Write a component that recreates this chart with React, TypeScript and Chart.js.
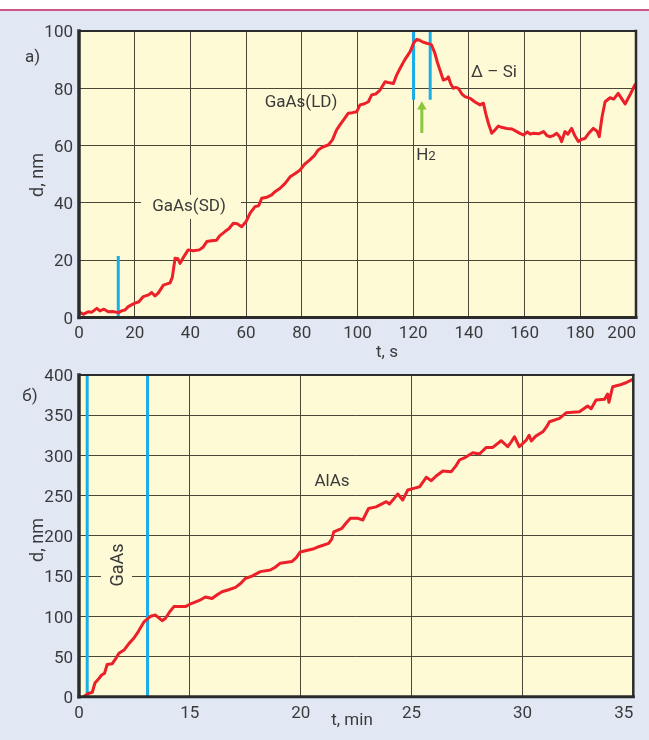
import { useEffect, useRef } from "react";
import { Chart, registerables } from "chart.js";
Chart.register(...registerables);

const FONT = "Roboto, 'DejaVu Sans', sans-serif";
const TEXT = "#3a3a3a";
const PLOT_BG = "#fffad6";
const GRID = "#4a4638";
const RED = "#ec2028";
const BLUE = "#1aaee8";
const GREEN = "#8cc63f";

// ---------- top chart (a): d, nm vs t, s ----------
const topTime = [
  0, 1.5, 3.3, 4.5, 6.4, 7.5, 9, 10.5, 12, 14.1, 15.5, 16.5, 17.7, 19, 20.1, 21.5, 23.1, 25, 26.1, 27.3,
  28.5, 30.3, 32.7, 33.5, 34.5, 35.5, 36.3, 37.5, 39.2, 41, 43.2, 44.5, 45.9, 47.5, 49.4, 50.5, 52.4, 53.8,
  55.4, 56.8, 58.4, 60, 61.5, 63.2, 64.5, 65.6, 67.5, 69.2, 70.5, 72.2, 74, 75.8, 77.5, 79.4, 81, 82.9,
  84.5, 85.9, 87.5, 89.5, 91, 92.5, 93.7, 95, 96.7, 98.2, 99.7, 100.9, 102.5, 103.9, 105.1, 106.5, 108.1,
  109.9, 111.5, 112.9, 114, 115.3, 117, 118.9, 120.1, 121.3, 122.3, 123.1, 124, 124.8, 125.8, 126.6, 127.8,
  128.7, 129.6, 130.8, 132, 132.6, 133.5, 134.4, 135.3, 136.2, 137.5, 138.6, 140.4, 142.2, 144, 145.2,
  146.1, 147, 148.2, 149.4, 150.6, 152, 153.6, 155.5, 157.2, 158.5, 159.6, 161, 162, 163.2, 165, 166.8,
  168, 169.2, 170.5, 171.5, 172.5, 173.3, 174.5, 175.5, 176.9, 178, 179.3, 180.5, 181.7, 183.2, 184.7,
  186, 186.8, 187.8, 188.9, 190.7, 192, 193.6, 194.8, 196.1, 198, 199.6, 200,
];
const topDepth = [
  2.0, 1.1, 2.0, 1.8, 3.2, 2.3, 2.9, 2.0, 2.1, 1.7, 2.4, 2.6, 3.8, 4.5, 5.0, 5.5, 7.3, 7.9, 8.7, 7.5,
  8.6, 11.3, 12.1, 14, 20.7, 20.5, 18.9, 21, 23.6, 23.3, 23.6, 24.5, 26.5, 26.8, 27, 28.5, 30, 31,
  32.9, 32.7, 31.7, 33.5, 36.5, 38.7, 39, 41.6, 42, 42.8, 44, 45.1, 46.8, 49.1, 50.2, 51.5, 53.5, 55,
  56.5, 58.5, 59.5, 60.2, 62, 65.5, 67.2, 69, 71.3, 71.5, 71.8, 74.2, 74.6, 75.3, 77.7, 78, 79.4,
  82.3, 81.9, 81.7, 84.5, 87, 90, 92.8, 95.7, 97.1, 96.8, 96.3, 96, 95.7, 95.5, 95.1, 92.2,
  89, 86.4, 82.9, 83.3, 84.0, 81.5, 80.0, 80.3, 80, 78, 77.1, 76.5, 75.2, 74.2, 74.8,
  71, 67.8, 64.3, 65.5, 66.8, 66.3, 66, 65.8, 64.9, 64.2, 63.7, 64.8, 64, 64.3, 64.1, 64.9,
  63.5, 63.1, 63.6, 64.3, 63.2, 61.4, 64.9, 64, 66, 63.5, 61.4, 62.2, 62.5, 64.5, 66,
  65, 63.1, 70, 75.3, 76.7, 76.2, 78.2, 76.5, 74.5, 78, 81.2, 81.5,
];
const topXTicks = [0, 20, 40, 60, 80, 100, 120, 140, 160, 180, 200];
const topXLabels = ["0", "20", "40", "60", "80", "100", "120", "140", "160", "180", "200"];
const topYTicks = [0, 20, 40, 60, 80, 100];
const topMarkerT = [14.1, 120.1, 126.1];
const topMarkerFrom = [0, 100, 100];
const topMarkerTo = [21.5, 76, 76];
const h2ArrowT = 123.1;
const h2ArrowFrom = 64.4;
const h2ArrowHead = 73.6;

// ---------- bottom chart (б): d, nm vs t, min ----------
const botTime = [
  10.2, 10.42, 10.6, 10.72, 10.85, 11.02, 11.15, 11.27, 11.5, 11.65, 11.8, 12.03, 12.25, 12.45, 12.63,
  12.8, 12.93, 13.1, 13.23, 13.45, 13.6, 13.75, 13.9, 14.1, 14.28, 14.8, 15.0, 15.18, 15.45, 15.7, 16.0,
  16.25, 16.45, 16.75, 17.06, 17.3, 17.5, 17.8, 18.18, 18.63, 18.85, 19.08, 19.6, 19.8, 19.98, 20.36,
  20.6, 20.81, 21.26, 21.4, 21.49, 21.86, 22.05, 22.24, 22.58, 22.8, 23.06, 23.4, 23.86, 24.0, 24.2,
  24.38, 24.6, 24.83, 25.1, 25.36, 25.66, 25.89, 26.11, 26.41, 26.79, 27.0, 27.16, 27.45, 27.76, 28.06,
  28.37, 28.66, 29.04, 29.34, 29.5, 29.64, 29.86, 30.17, 30.3, 30.4, 30.6, 30.92, 31.1, 31.22, 31.67,
  31.97, 32.57, 32.94, 33.1, 33.32, 33.7, 33.84, 33.9, 34.07, 34.37, 34.67, 34.97, 35.0,
];
const botDepth = [
  0, 4, 5.5, 17, 21, 27, 29, 40, 41, 47, 54, 58, 66, 72, 79,
  87, 93, 97, 100, 101.5, 98, 94.5, 97.5, 106, 112, 112, 115, 117, 120, 124, 122,
  127, 130.5, 133, 136, 141, 147, 150, 155.5, 157.5, 161, 166, 168, 173, 180, 182.5,
  184, 186.5, 190.7, 196, 205, 209.4, 216, 221.8, 221.8, 219.7, 234, 236, 242.5, 239.6, 246,
  252, 244.6, 257, 259, 261, 272.8, 268.6, 274.4, 280.6, 279.8, 287, 294.3, 298, 303.4, 301.8,
  310, 310, 318.3, 310.8, 317, 323.2, 310.8, 319, 325, 318, 324, 329.4, 336, 341.9, 346,
  353, 354.3, 361.4, 358, 368.9, 369.7, 376.3, 366, 385.4, 387.5, 390.4, 394.6, 395,
];
const botXTicks = [10, 15, 20, 25, 30, 35];
const botXLabels = ["0", "15", "20", "25", "30", "35"];
const botYTicks = [0, 50, 100, 150, 200, 250, 300, 350, 400];
const botMarkerT = [10.37, 13.09];
const botMarkerFrom = [0, 0];
const botMarkerTo = [400, 400];

type Label = {
  text: string;
  x: number;
  y: number;
  size: number;
  rotate?: boolean;
  sub?: string;
  box?: [number, number, number, number];
};

function drawText(ctx: CanvasRenderingContext2D, l: Label) {
  ctx.save();
  ctx.font = `${l.size}px ${FONT}`;
  ctx.fillStyle = TEXT;
  ctx.textAlign = "center";
  ctx.textBaseline = "middle";
  ctx.translate(l.x, l.y);
  if (l.rotate) ctx.rotate(-Math.PI / 2);
  if (l.sub) {
    const w1 = ctx.measureText(l.text).width;
    ctx.font = `${l.size * 0.78}px ${FONT}`;
    const w2 = ctx.measureText(l.sub).width;
    const start = -(w1 + w2) / 2;
    ctx.textAlign = "left";
    ctx.font = `${l.size}px ${FONT}`;
    ctx.fillText(l.text, start, 0);
    ctx.font = `${l.size * 0.78}px ${FONT}`;
    ctx.fillText(l.sub, start + w1, 1.5);
  } else {
    ctx.fillText(l.text, 0, 0);
  }
  ctx.restore();
}

function makePlugin(labels: Label[], xTicks: number[], xLabels: string[], xLabelY: number) {
  return {
    id: "decor",
    beforeDraw(chart: any) {
      const a = chart.chartArea;
      const ctx = chart.ctx;
      ctx.save();
      ctx.fillStyle = PLOT_BG;
      ctx.fillRect(a.left, a.top, a.right - a.left, a.bottom - a.top);
      ctx.restore();
    },
    beforeDatasetsDraw(chart: any) {
      const ctx = chart.ctx;
      ctx.save();
      ctx.fillStyle = PLOT_BG;
      for (const l of labels) {
        if (l.box) ctx.fillRect(l.box[0], l.box[1], l.box[2], l.box[3]);
      }
      ctx.restore();
    },
    afterDraw(chart: any) {
      const a = chart.chartArea;
      const ctx: CanvasRenderingContext2D = chart.ctx;
      ctx.save();
      ctx.strokeStyle = "#2b2b2b";
      ctx.lineCap = "square";
      const seg = (x1: number, y1: number, x2: number, y2: number, w: number) => {
        ctx.lineWidth = w;
        ctx.beginPath();
        ctx.moveTo(x1, y1);
        ctx.lineTo(x2, y2);
        ctx.stroke();
      };
      seg(a.left, a.top, a.right, a.top, 2);
      seg(a.right, a.top, a.right, a.bottom, 2.5);
      seg(a.left, a.top, a.left, a.bottom, 3.5);
      seg(a.left, a.bottom, a.right, a.bottom, 3);
      ctx.restore();
      const xs = chart.scales.x;
      ctx.save();
      ctx.font = `17px ${FONT}`;
      ctx.fillStyle = TEXT;
      ctx.textBaseline = "middle";
      xTicks.forEach((v, i) => {
        const px = xs.getPixelForValue(v);
        if (i === xTicks.length - 1) {
          ctx.textAlign = "right";
          ctx.fillText(xLabels[i], a.right, xLabelY);
        } else {
          ctx.textAlign = "center";
          ctx.fillText(xLabels[i], px, xLabelY);
        }
      });
      ctx.restore();
      for (const l of labels) drawText(ctx, l);
    },
  };
}

function buildChart(
  canvas: HTMLCanvasElement,
  opts: {
    time: number[];
    depth: number[];
    markerT: number[];
    markerFrom: number[];
    markerTo: number[];
    xMin: number;
    xMax: number;
    xTicks: number[];
    yTicks: number[];
    padding: { top: number; right: number };
    xHeight: number;
    extra: any[];
    plugin: any;
  }
) {
  const datasets: any[] = [
    {
      data: opts.time.map((t, i) => ({ x: t, y: opts.depth[i] })),
      borderColor: RED,
      borderWidth: 3,
      pointRadius: 0,
      tension: 0,
      borderJoinStyle: "round",
    },
    ...opts.extra,
    ...opts.markerT.map((t, i) => ({
      data: [
        { x: t, y: opts.markerFrom[i] },
        { x: t, y: opts.markerTo[i] },
      ],
      borderColor: BLUE,
      borderWidth: 3,
      pointRadius: 0,
    })),
  ];
  return new Chart(canvas, {
    type: "line",
    data: { datasets },
    options: {
      responsive: false,
      animation: false,
      layout: { padding: { left: 0, top: opts.padding.top, right: opts.padding.right, bottom: 0 } },
      plugins: { legend: { display: false }, tooltip: { enabled: false } },
      scales: {
        x: {
          type: "linear",
          min: opts.xMin,
          max: opts.xMax,
          afterBuildTicks: (s: any) => {
            s.ticks = opts.xTicks.map((v) => ({ value: v }));
          },
          afterFit: (s: any) => {
            s.height = opts.xHeight;
            s.paddingLeft = 0;
            s.paddingRight = 0;
          },
          ticks: { display: false },
          grid: { color: GRID, lineWidth: 1, drawTicks: false },
          border: { display: false },
        },
        y: {
          type: "linear",
          min: opts.yTicks[0],
          max: opts.yTicks[opts.yTicks.length - 1],
          afterBuildTicks: (s: any) => {
            s.ticks = opts.yTicks.map((v) => ({ value: v }));
          },
          afterFit: (s: any) => {
            s.width = 79;
            s.paddingTop = 0;
            s.paddingBottom = 0;
          },
          ticks: {
            font: { family: FONT, size: 17 },
            color: TEXT,
            padding: 6,
            labelOffset: 2,
          },
          grid: { color: GRID, lineWidth: 1, drawTicks: false },
          border: { display: false },
        },
      },
    } as any,
    plugins: [opts.plugin],
  });
}

const BOT_TOP = 345;

export default function App() {
  const topRef = useRef<HTMLCanvasElement>(null);
  const botRef = useRef<HTMLCanvasElement>(null);

  useEffect(() => {
    document.body.style.margin = "0";
    const topLabels: Label[] = [
      { text: "а)", x: 32.5, y: 58, size: 17 },
      { text: "d, nm", x: 38, y: 175, size: 18, rotate: true },
      { text: "t, s", x: 387, y: 353, size: 17 },
      { text: "GaAs(SD)", x: 189, y: 207, size: 17, box: [141, 195, 100, 24] },
      { text: "GaAs(LD)", x: 301, y: 103, size: 17 },
      { text: "Δ – Si", x: 494, y: 72.5, size: 17 },
      { text: "H", sub: "2", x: 426, y: 155.5, size: 17 },
    ];
    const o = BOT_TOP;
    const botLabels: Label[] = [
      { text: "б)", x: 30, y: 396.7 - o, size: 17 },
      { text: "d, nm", x: 38, y: 540 - o, size: 18, rotate: true },
      { text: "t, min", x: 352, y: 721 - o, size: 17 },
      { text: "GaAs", x: 118, y: 565 - o, size: 18, rotate: true, box: [101, 538 - o, 31, 54] },
      { text: "AlAs", x: 332, y: 482 - o, size: 17 },
    ];
    const top = buildChart(topRef.current!, {
      time: topTime,
      depth: topDepth,
      markerT: topMarkerT,
      markerFrom: topMarkerFrom,
      markerTo: topMarkerTo,
      xMin: 0,
      xMax: 200,
      xTicks: topXTicks,
      yTicks: topYTicks,
      padding: { top: 31, right: 13 },
      xHeight: 52.5,
      extra: [
        {
          data: [
            { x: h2ArrowT, y: h2ArrowFrom },
            { x: h2ArrowT, y: h2ArrowHead },
          ],
          borderColor: GREEN,
          borderWidth: 3,
          pointRadius: [0, 5.5],
          pointStyle: "triangle",
          pointBackgroundColor: GREEN,
          pointBorderWidth: 0,
        },
      ],
      plugin: makePlugin(topLabels, topXTicks, topXLabels, 334),
    });
    const bot = buildChart(botRef.current!, {
      time: botTime,
      depth: botDepth,
      markerT: botMarkerT,
      markerFrom: botMarkerFrom,
      markerTo: botMarkerTo,
      xMin: 10,
      xMax: 35,
      xTicks: botXTicks,
      yTicks: botYTicks,
      padding: { top: 375 - o, right: 15.7 },
      xHeight: 740 - 696.7,
      extra: [],
      plugin: makePlugin(botLabels, botXTicks, botXLabels, 714 - o),
    });
    return () => {
      top.destroy();
      bot.destroy();
    };
  }, []);

  return (
    <div style={{ position: "relative", width: 649, height: 740, background: "#e1e8f4", overflow: "hidden" }}>
      <div style={{ position: "absolute", left: 0, top: 0, width: 649, height: 9, background: "#ffffff" }} />
      <div style={{ position: "absolute", left: 0, top: 9, width: 649, height: 2, background: "#c9558a" }} />
      <canvas ref={topRef} width={649} height={370} style={{ position: "absolute", left: 0, top: 0, width: 649, height: 370 }} />
      <canvas
        ref={botRef}
        width={649}
        height={740 - BOT_TOP}
        style={{ position: "absolute", left: 0, top: BOT_TOP, width: 649, height: 740 - BOT_TOP }}
      />
    </div>
  );
}
